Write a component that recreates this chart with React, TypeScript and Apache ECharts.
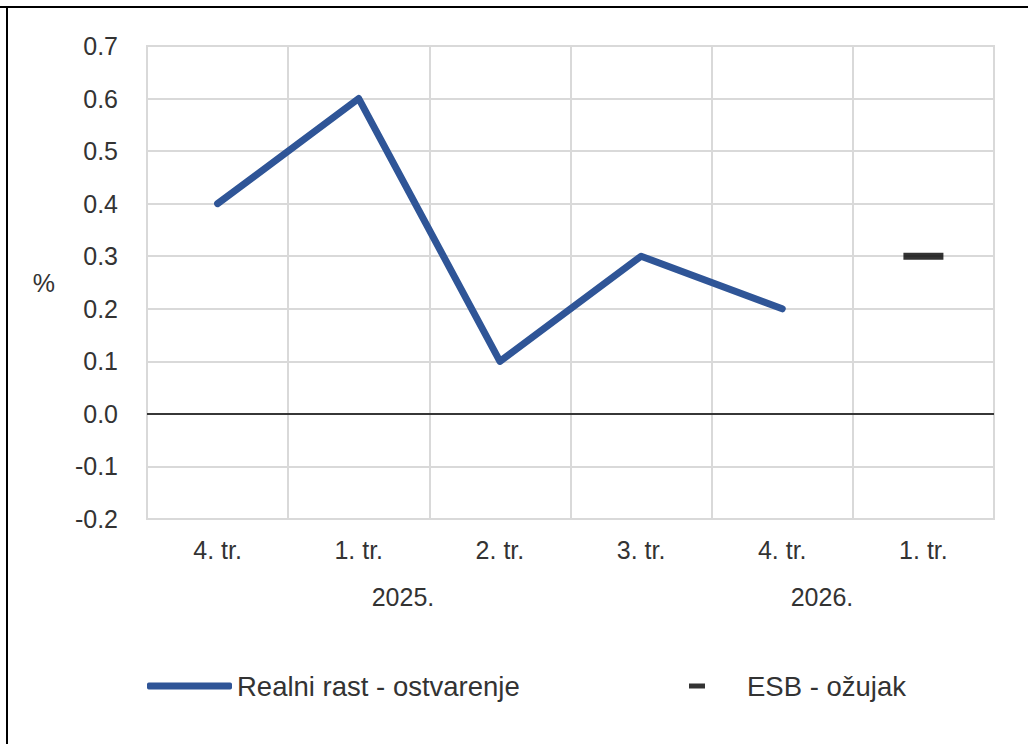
import React, { useEffect, useRef } from "react";
import * as echarts from "echarts";

const categories = ["4. tr.", "1. tr.", "2. tr.", "3. tr.", "4. tr.", "1. tr."];
const realGrowth = [0.4, 0.6, 0.1, 0.3, 0.2, null];
const ecbMarch = [null, null, null, null, null, 0.3];
const yearLabels = ["2025.", "2026."];
const seriesNames = ["Realni rast - ostvarenje", "ESB - ožujak"];

const FONT = "'Liberation Sans', Arial, sans-serif";
const TEXT = "#333333";
const FS = 25;
const LFS = 27.5;

export default function App() {
  const ref = useRef<HTMLDivElement>(null);
  useEffect(() => {
    if (!ref.current) return;
    const chart = echarts.init(ref.current, undefined, { renderer: "svg" });
    chart.setOption({
      animation: false,
      backgroundColor: "#ffffff",
      textStyle: { fontFamily: FONT },
      grid: {
        left: 147,
        right: 34,
        top: 46,
        height: 473,
        show: true,
        borderColor: "#d9d9d9",
        borderWidth: 2,
      },
      xAxis: {
        type: "category",
        data: categories,
        boundaryGap: true,
        axisLine: { show: false },
        axisTick: { show: false },
        axisLabel: { color: TEXT, fontSize: FS, fontFamily: FONT, margin: 18 },
        splitLine: { show: true, lineStyle: { color: "#d9d9d9", width: 2 } },
      },
      yAxis: {
        type: "value",
        min: -0.2,
        max: 0.7,
        interval: 0.1,
        name: "%",
        nameLocation: "middle",
        nameRotate: 0,
        nameGap: 92,
        nameTextStyle: { color: TEXT, fontSize: FS, fontFamily: FONT },
        axisLine: { show: false },
        axisTick: { show: false },
        axisLabel: {
          color: TEXT,
          fontSize: FS,
          fontFamily: FONT,
          margin: 29,
          formatter: (v: number) => v.toFixed(1),
        },
        splitLine: { show: true, lineStyle: { color: "#d9d9d9", width: 2 } },
      },
      legend: [
        {
          left: 147,
          top: 672,
          padding: 0,
          itemWidth: 85,
          itemHeight: 7,
          data: [{ name: seriesNames[0], icon: "roundRect" }],
          textStyle: { color: TEXT, fontSize: LFS, fontFamily: FONT },
        },
        {
          left: 689,
          top: 672,
          padding: 0,
          itemWidth: 16,
          itemHeight: 5,
          data: [{ name: seriesNames[1], icon: "rect" }],
          textStyle: { color: TEXT, fontSize: LFS, fontFamily: FONT, padding: [0, 0, 0, 37] },
        },
      ],
      graphic: [
        {
          type: "line",
          shape: { x1: 0, y1: 7, x2: 1028, y2: 7 },
          style: { stroke: "#000", lineWidth: 2 },
        },
        {
          type: "line",
          shape: { x1: 7, y1: 7, x2: 7, y2: 744 },
          style: { stroke: "#000", lineWidth: 2 },
        },
        {
          type: "text",
          x: 403,
          y: 597,
          style: { text: yearLabels[0], fill: TEXT, font: `${FS}px ${FONT}`, align: "center", verticalAlign: "middle" },
        },
        {
          type: "text",
          x: 822,
          y: 597,
          style: { text: yearLabels[1], fill: TEXT, font: `${FS}px ${FONT}`, align: "center", verticalAlign: "middle" },
        },
      ],
      series: [
        {
          name: seriesNames[0],
          type: "line",
          data: realGrowth,
          symbol: "none",
          color: "#2F5597",
          lineStyle: { color: "#2F5597", width: 7, cap: "round", join: "round" },
          markLine: {
            silent: true,
            symbol: "none",
            label: { show: false },
            lineStyle: { color: "#000000", width: 1.5, type: "solid" },
            data: [{ yAxis: 0 }],
          },
        },
        {
          name: seriesNames[1],
          type: "scatter",
          data: ecbMarch,
          symbol: "rect",
          symbolSize: [40, 7],
          color: "#000000",
          itemStyle: { color: "#000000" },
        },
      ],
    });
    return () => chart.dispose();
  }, []);
  return (
    <div
      ref={ref}
      style={{ position: "fixed", left: 0, top: 0, width: 1028, height: 744, background: "#fff" }}
    />
  );
}
